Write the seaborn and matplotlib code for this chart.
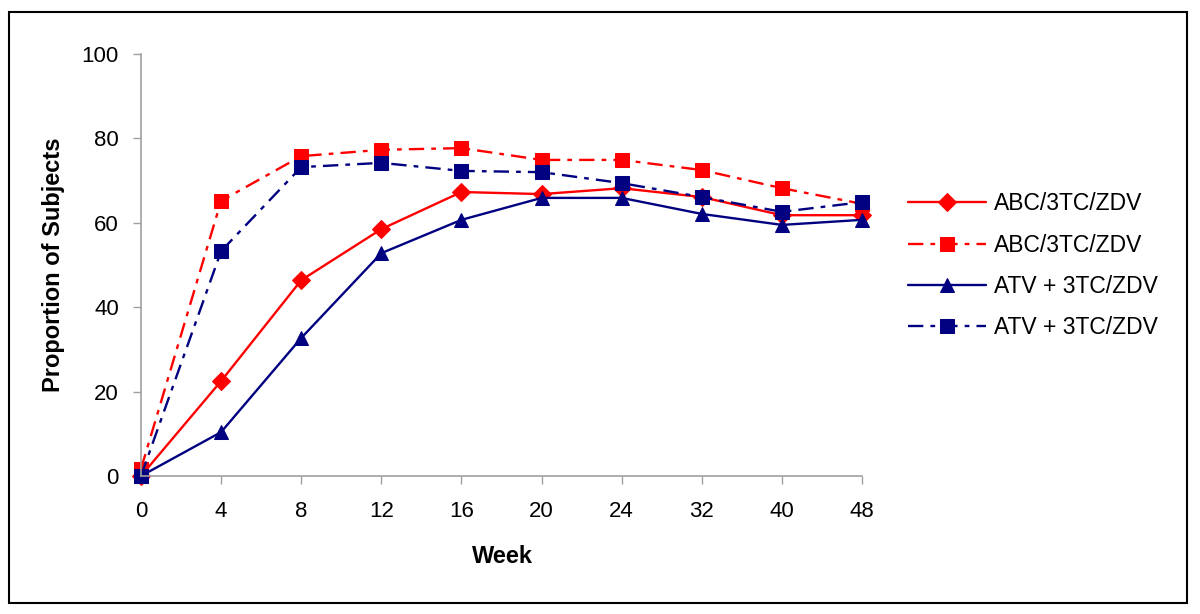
import matplotlib
matplotlib.use("Agg")
import matplotlib.pyplot as plt
import seaborn as sns
import pandas as pd
from matplotlib.patches import Rectangle

weeks = ["0", "4", "8", "12", "16", "20", "24", "32", "40", "48"]
abc_solid = [0, 22.5, 46.4, 58.5, 67.3, 66.8, 68.2, 66.1, 61.8, 61.8]
abc_dash = [1.7, 65.2, 75.8, 77.3, 77.7, 74.9, 74.9, 72.5, 68.2, 64.5]
atv_solid = [0, 10.4, 32.7, 52.8, 60.7, 65.9, 65.9, 62.1, 59.5, 60.7]
atv_dash = [0, 53.3, 73.2, 74.2, 72.3, 72.0, 69.4, 66.1, 62.6, 64.9]
labels = ["ABC/3TC/ZDV", "ABC/3TC/ZDV", "ATV + 3TC/ZDV", "ATV + 3TC/ZDV"]

sns.set_theme(style="white")
plt.rcParams['font.family'] = ['Liberation Sans', 'DejaVu Sans']
plt.rcParams['text.color'] = 'black'
plt.rcParams['axes.labelcolor'] = 'black'

fig = plt.figure(figsize=(12, 6.14), dpi=100)
ax = fig.add_axes([141/1200, 1-476/614, (862-141)/1200, (476-54)/614])

red = "#FF0000"
navy = "#000080"
dashdot = (0, (6.5, 3, 2, 3))
specs = [
    (abc_solid, red, "-", "D", 9),
    (abc_dash, red, dashdot, "s", 9.5),
    (atv_solid, navy, "-", "^", 10),
    (atv_dash, navy, dashdot, "s", 9.5),
]
pos = list(range(len(weeks)))
for (vals, col, ls, mk, ms), lab in zip(specs, labels):
    df = pd.DataFrame({"x": pos, "y": vals})
    sns.lineplot(data=df, x="x", y="y", ax=ax, color=col, linestyle=ls,
                 marker=mk, markersize=ms, markeredgecolor=col,
                 markerfacecolor=col, linewidth=1.7, label=lab,
                 clip_on=False)

ax.set_xlim(0, len(weeks) - 1)
ax.set_ylim(0, 100)
ax.set_xticks(pos)
ax.set_xticklabels(weeks)
ax.set_yticks([0, 20, 40, 60, 80, 100])
ax.tick_params(axis="both", which="both", direction="out", length=6,
               width=1, color="#A0A0A0", labelsize=16, labelcolor="black",
               bottom=True, left=True)
ax.tick_params(axis="x", pad=12)
ax.tick_params(axis="y", pad=10)
for s in ["top", "right"]:
    ax.spines[s].set_visible(False)
for s in ["left", "bottom"]:
    ax.spines[s].set_color("#A0A0A0")
    ax.spines[s].set_linewidth(1.2)
ax.grid(False)

ax.set_xlabel("Week", fontsize=17, fontweight="bold")
ax.set_ylabel("Proportion of Subjects", fontsize=17, fontweight="bold")
ax.xaxis.set_label_coords((502 - 141) / 721, (476 - 545) / 422)
ax.yaxis.set_label_coords((65 - 141) / 721, 0.5)

leg = ax.legend(loc="center left", bbox_to_anchor=(908/1200, 1-266/614),
                bbox_transform=fig.transFigure, frameon=False,
                fontsize=16.5, handlelength=3.4, handletextpad=0.35,
                labelspacing=0.8, borderpad=0, borderaxespad=0)

fig.patches.append(Rectangle((9/1200, 1-603/614), (1187-9)/1200, (603-12)/614,
                             transform=fig.transFigure, fill=False,
                             edgecolor="black", linewidth=1.5))

fig.savefig("out.png", dpi=100)
